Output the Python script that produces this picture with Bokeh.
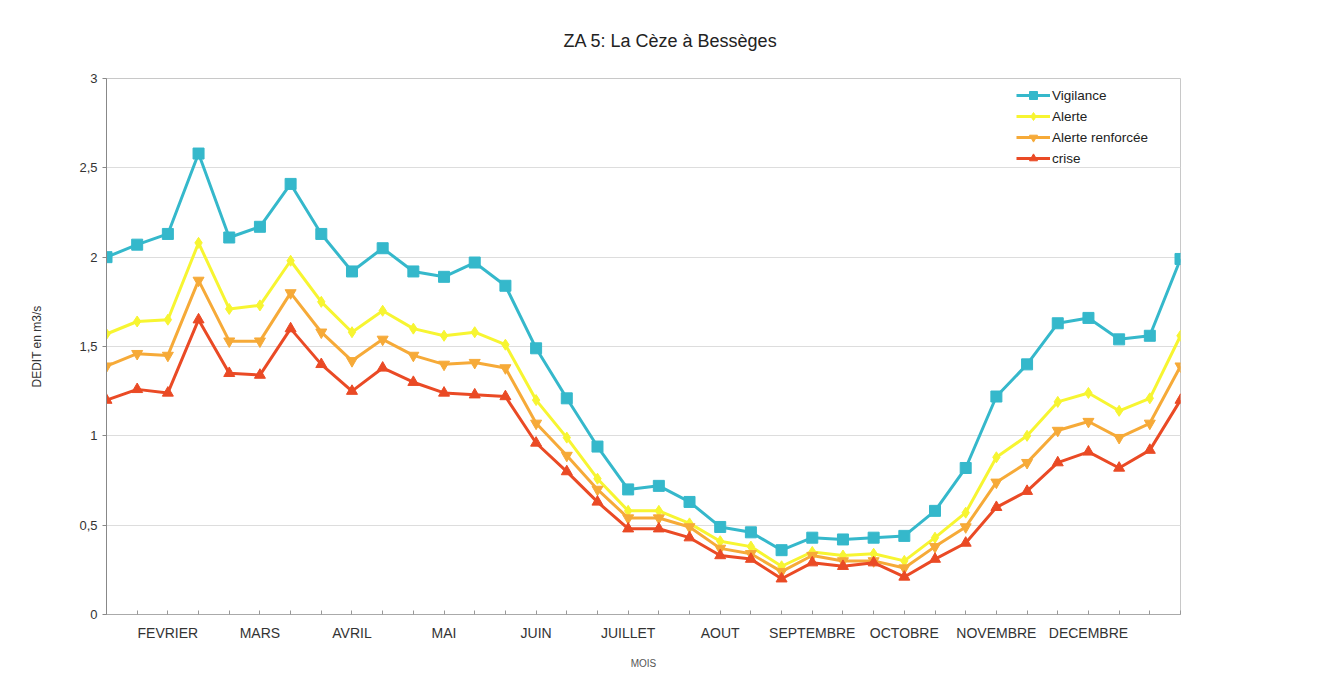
from bokeh.plotting import figure
from bokeh.models import Range1d, FixedTicker, Legend, LegendItem
from bokeh.embed import file_html
from bokeh.resources import INLINE

# ---- data (decades: 3 points per month, 36 points) ----
mois = ["FEVRIER", "MARS", "AVRIL", "MAI", "JUIN", "JUILLET", "AOUT",
        "SEPTEMBRE", "OCTOBRE", "NOVEMBRE", "DECEMBRE"]
decades = list(range(36))

vigilance = [2.00, 2.07, 2.13, 2.58, 2.11, 2.17, 2.41, 2.13, 1.92, 2.05, 1.92, 1.89,
             1.97, 1.84, 1.49, 1.21, 0.94, 0.70, 0.72, 0.63, 0.49, 0.46, 0.36, 0.43,
             0.42, 0.43, 0.44, 0.58, 0.82, 1.22, 1.40, 1.63, 1.66, 1.54, 1.56, 1.99]
alerte = [1.57, 1.64, 1.65, 2.08, 1.71, 1.73, 1.98, 1.75, 1.58, 1.70, 1.60, 1.56,
          1.58, 1.51, 1.20, 0.99, 0.76, 0.58, 0.58, 0.51, 0.41, 0.38, 0.27, 0.35,
          0.33, 0.34, 0.30, 0.43, 0.57, 0.88, 1.00, 1.19, 1.24, 1.14, 1.21, 1.56]
alerte_renforcee = [1.39, 1.46, 1.45, 1.87, 1.53, 1.53, 1.80, 1.58, 1.42, 1.54, 1.45, 1.40,
                    1.41, 1.38, 1.07, 0.89, 0.70, 0.54, 0.54, 0.49, 0.37, 0.34, 0.24, 0.33,
                    0.30, 0.30, 0.26, 0.38, 0.49, 0.74, 0.85, 1.03, 1.08, 0.99, 1.07, 1.39]
crise = [1.20, 1.26, 1.24, 1.65, 1.35, 1.34, 1.60, 1.40, 1.25, 1.38, 1.30, 1.24,
         1.23, 1.22, 0.96, 0.80, 0.63, 0.48, 0.48, 0.43, 0.33, 0.31, 0.20, 0.29,
         0.27, 0.29, 0.21, 0.31, 0.40, 0.60, 0.69, 0.85, 0.91, 0.82, 0.92, 1.20]

series = [
    ("Vigilance", vigilance, "#35b8cb", "square"),
    ("Alerte", alerte, "#f7f531", "diamond"),
    ("Alerte renforcée", alerte_renforcee, "#f6aa38", "inverted_triangle"),
    ("crise", crise, "#ea4a25", "triangle"),
]

FONT = "Liberation Sans"

p = figure(width=1309, height=671, output_backend="svg", toolbar_location=None,
           x_range=Range1d(0, 35), y_range=Range1d(0, 3),
           min_border_left=106, min_border_right=129, min_border_top=78,
           min_border_bottom=54)

p.title.text = "ZA 5: La Cèze à Bessèges"
p.title.align = "left"
p.title.offset = 457
p.title.text_font = FONT
p.title.text_font_size = "18px"
p.title.text_font_style = "normal"
p.title.text_color = "#222222"
p.title.standoff = 56

p.outline_line_color = "#c8c8c8"
p.background_fill_color = "white"
p.border_fill_color = "white"

# grid
p.xgrid.grid_line_color = None
p.ygrid.grid_line_color = "#dddddd"
p.ygrid.grid_line_width = 1

# y axis
p.yaxis.ticker = FixedTicker(ticks=[0, 0.5, 1, 1.5, 2, 2.5, 3])
p.yaxis.major_label_overrides = {0: "0", 0.5: "0,5", 1: "1", 1.5: "1,5",
                                 2: "2", 2.5: "2,5", 3: "3"}
p.yaxis.axis_label = "DEDIT en m3/s"
p.yaxis.axis_label_text_font = FONT
p.yaxis.axis_label_text_font_size = "12px"
p.yaxis.axis_label_text_font_style = "normal"
p.yaxis.axis_label_text_color = "#333333"
p.yaxis.axis_label_standoff = 32
p.yaxis.major_label_text_font = FONT
p.yaxis.major_label_text_font_size = "13px"
p.yaxis.major_label_text_color = "#333333"
p.yaxis.axis_line_color = "#888888"
p.yaxis.major_tick_line_color = "#888888"
p.yaxis.major_tick_out = 4
p.yaxis.major_tick_in = 0
p.yaxis.minor_tick_line_color = None

# x axis
labels = {i: "" for i in decades}
for k, m in enumerate(mois):
    labels[2 + 3 * k] = m
p.xaxis.ticker = FixedTicker(ticks=decades)
p.xaxis.major_label_overrides = labels
p.xaxis.axis_label = "MOIS"
p.xaxis.axis_label_text_font = FONT
p.xaxis.axis_label_text_font_size = "10px"
p.xaxis.axis_label_text_font_style = "normal"
p.xaxis.axis_label_text_color = "#555555"
p.xaxis.axis_label_standoff = 14
p.xaxis.major_label_text_font = FONT
p.xaxis.major_label_text_font_size = "14px"
p.xaxis.major_label_text_color = "#333333"
p.xaxis.major_label_standoff = 10
p.xaxis.axis_line_color = "#aaaaaa"
p.xaxis.major_tick_line_color = "#999999"
p.xaxis.major_tick_out = 0
p.xaxis.major_tick_in = 4
p.xaxis.minor_tick_line_color = None

items = []
for name, vals, color, marker in series:
    r1 = p.line(decades, vals, line_color=color, line_width=3)
    r2 = p.scatter(decades, vals, marker=marker, size=11, fill_color=color,
                   line_color=color)
    items.append(LegendItem(label=name, renderers=[r1, r2]))

legend = Legend(items=items, location="top_right")
legend.label_text_font = FONT
legend.label_text_font_size = "13.5px"
legend.label_text_color = "#222222"
legend.border_line_color = None
legend.background_fill_alpha = 0
legend.glyph_width = 34
legend.glyph_height = 20
legend.label_height = 20
legend.spacing = 1
legend.label_standoff = 2
legend.padding = 0
legend.margin = 0
legend.location = (910, 446)
p.add_layout(legend)

open("out.html", "w").write(file_html(p, INLINE))
